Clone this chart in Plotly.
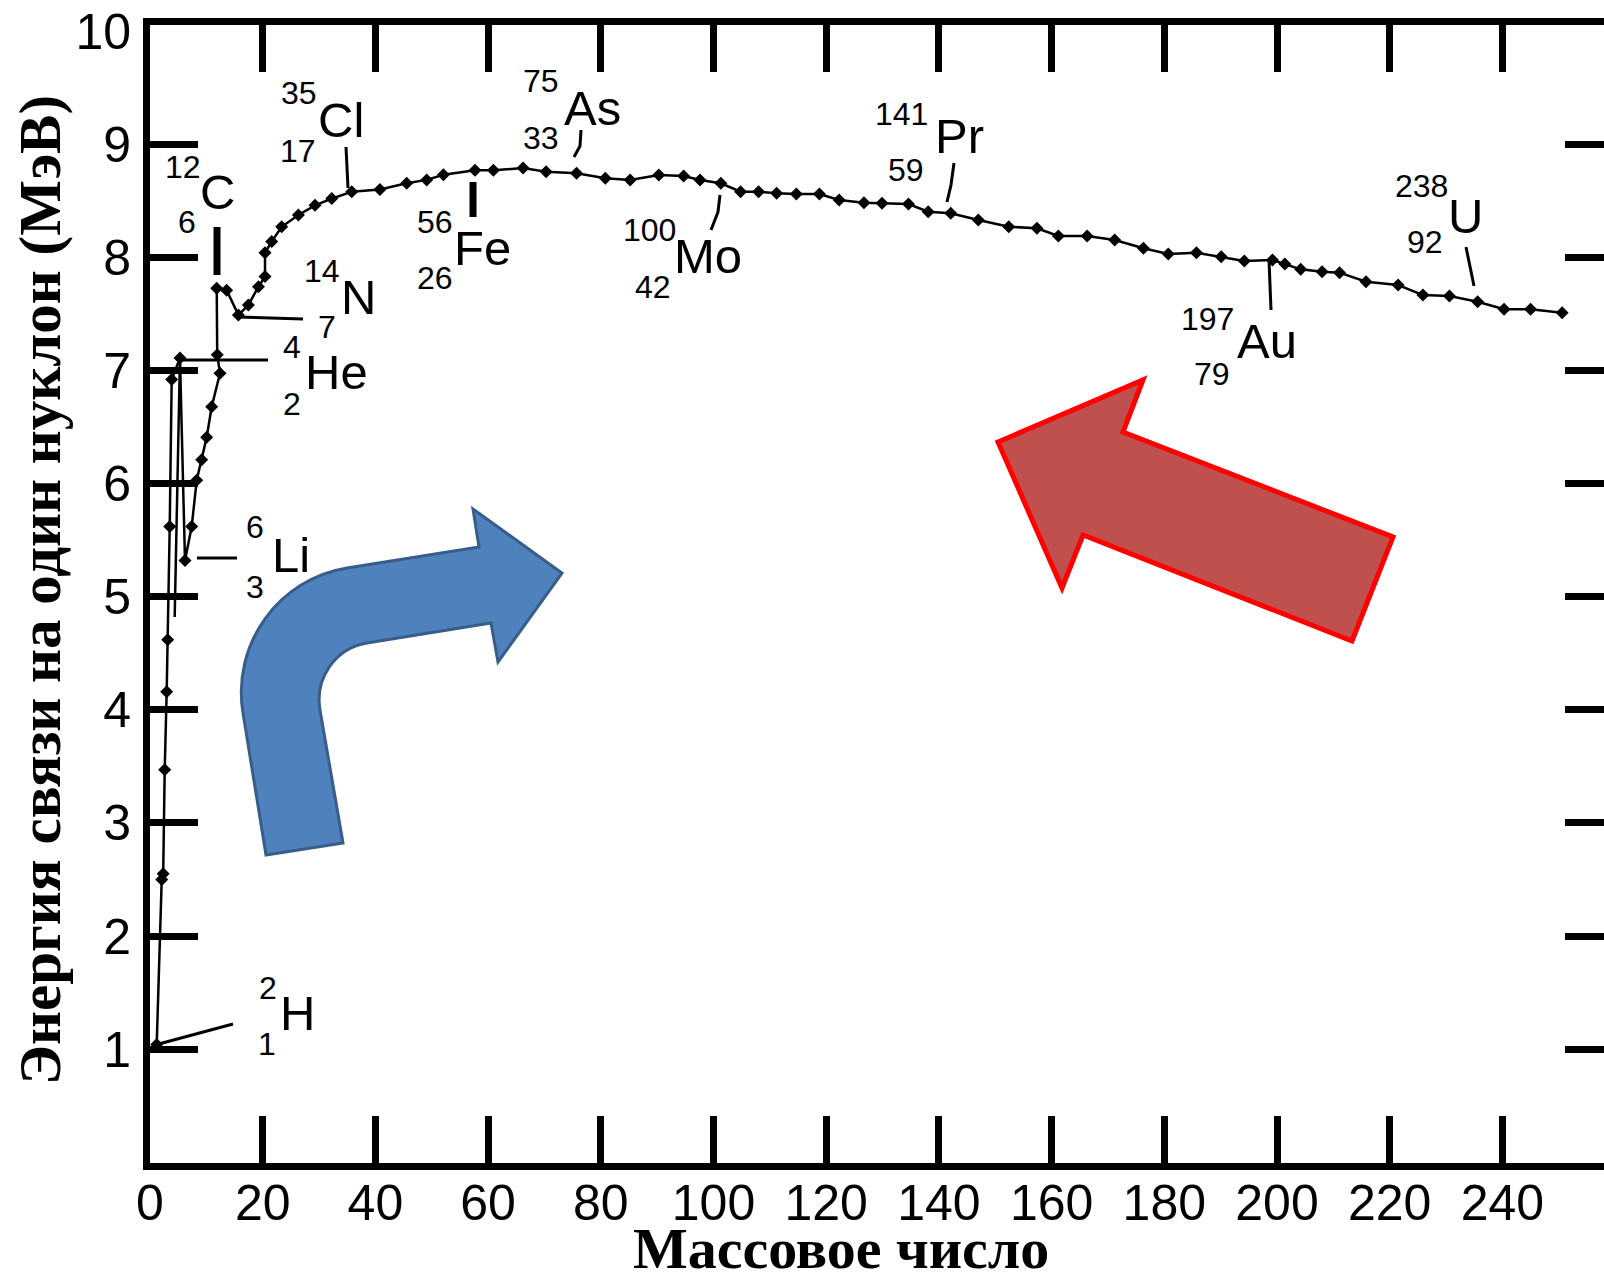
import plotly.graph_objects as go

# ---------------- data ----------------
mass_number = [1.19, 2.08, 2.34, 2.61, 2.96, 3.14, 3.5, 3.85, 5.32, 6.21,
               7.4, 8.29, 9.17, 10.06, 10.95, 12.42, 11.93, 11.84, 13.6, 15.69,
               17.46, 19.24, 20.41, 20.41, 21.6, 23.37, 26.34, 29.28, 32.25, 35.8,
               40.8, 45.55, 49.1, 52.07, 57.68, 60.94, 66.2, 70.3, 75.7, 80.8,
               85.2, 90.3, 94.7, 97.6, 101.3, 104.8, 108.0, 111.2, 114.7, 118.8,
               122.3, 126.7, 129.9, 134.6, 138.1, 142.1, 147.0, 152.4, 157.4, 161.2,
               166.3, 171.2, 176.3, 180.7, 185.7, 190.1, 194.2, 199.2, 201.4, 204.2,
               208.0, 211.1, 215.8, 221.5, 225.9, 230.6, 235.6, 240.3, 245.0, 250.6]
binding_energy = [1.04, 2.50, 2.55, 3.47, 4.16, 4.62, 5.62, 6.92, 7.11, 5.32,
                  5.62, 6.03, 6.21, 6.41, 6.68, 6.975, 7.14, 7.727, 7.71, 7.49,
                  7.58, 7.74, 7.83, 8.04, 8.14, 8.27, 8.375, 8.46, 8.52, 8.58,
                  8.6, 8.655, 8.685, 8.73, 8.77, 8.77, 8.79, 8.757, 8.743, 8.699,
                  8.684, 8.728, 8.719, 8.684, 8.655, 8.581, 8.581, 8.566, 8.560, 8.560,
                  8.507, 8.483, 8.478, 8.472, 8.404, 8.390, 8.330, 8.271, 8.257, 8.19,
                  8.189, 8.153, 8.08, 8.03, 8.04, 8.006, 7.968, 7.977, 7.941, 7.894,
                  7.873, 7.865, 7.785, 7.756, 7.667, 7.658, 7.608, 7.541, 7.541, 7.511]
# short extra line segment below the He-4 point
extra_mass_number = [5.32, 4.38]
extra_binding_energy = [7.11, 4.82]

x_tick_values = [0, 20, 40, 60, 80, 100, 120, 140, 160, 180, 200, 220, 240]
y_tick_values = [1, 2, 3, 4, 5, 6, 7, 8, 9, 10]
y_tick_marks = [1, 2, 3, 4, 5, 6, 7, 8, 9]

label_symbol = ["H", "Li", "He", "N", "C", "Cl", "Fe", "As", "Mo", "Pr", "Au", "U"]
label_mass = ["2", "6", "4", "14", "12", "35", "56", "75", "100", "141", "197", "238"]
label_z = ["1", "3", "2", "7", "6", "17", "26", "33", "42", "59", "79", "92"]

x_title = "Массовое число"
y_title = "Энергия связи на один нуклон (МэВ)"

# ---------------- layout geometry (pixels) ----------------
W_FIG, H_FIG = 1604, 1272
L, R, T, B = 150, 1604, 25, 1163
X_RANGE = [0, (R - L) / 5.635]
Y_RANGE = [(1162.25 - B) / 113.11, (1162.25 - T) / 113.11]


def px(xp):
    return (xp - L) / (R - L)


def py(yp):
    return (B - yp) / (B - T)


# label placement: (sup right edge x, sup y, symbol centre x, symbol y, sub right edge x, sub y)
label_pos = [
    (279, 988, 297, 1013, 278, 1044),
    (266, 527, 291, 555, 266, 587),
    (303, 347, 336, 372, 303, 404),
    (342, 271, 358, 297, 338, 327),
    (203, 167, 217, 192, 198, 222),
    (319, 93, 341, 120, 318, 151),
    (455, 222, 482, 248, 455, 278),
    (561, 81, 592, 108, 561, 138),
    (678, 230, 708, 256, 673, 287),
    (930, 114, 959, 136, 926, 170),
    (1236, 319, 1267, 341, 1232, 374),
    (1450, 186, 1465, 216, 1445, 242),
]
# pointer lines (pixel polylines) and widths
pointers = [
    ([(155, 1045), (233, 1024)], 3),
    ([(197, 558), (237, 558)], 3),
    ([(183, 360), (268, 360)], 3),
    ([(237, 317), (303, 319)], 3),
    ([(217, 227), (217, 275)], 7),
    ([(346, 147), (348, 188)], 3),
    ([(473, 182), (473, 217)], 7),
    ([(581, 130), (580, 146), (574, 157)], 3),
    ([(720, 195), (718, 212), (711, 230)], 3),
    ([(954, 163), (951, 185), (947, 202)], 3),
    ([(1269, 260), (1271, 310)], 3),
    ([(1466, 247), (1474, 286)], 3),
]

fig = go.Figure()
fig.add_trace(go.Scatter(
    x=mass_number, y=binding_energy, mode="lines+markers",
    line=dict(color="black", width=2.5),
    marker=dict(color="black", size=10, symbol="diamond"),
    hoverinfo="skip", showlegend=False))
fig.add_trace(go.Scatter(
    x=extra_mass_number, y=extra_binding_energy, mode="lines",
    line=dict(color="black", width=2.5), hoverinfo="skip", showlegend=False))
fig.add_trace(go.Scatter(x=[], y=[], yaxis="y2", showlegend=False))
fig.add_trace(go.Scatter(x=[], y=[], yaxis="y3", showlegend=False))

tick_font = dict(family="Liberation Sans", size=50, color="black")

fig.update_layout(
    width=W_FIG, height=H_FIG,
    margin=dict(l=L, r=W_FIG - R, t=T, b=H_FIG - B, pad=0),
    paper_bgcolor="white", plot_bgcolor="white",
    showlegend=False,
    xaxis=dict(range=X_RANGE, tickmode="array", tickvals=x_tick_values,
               ticktext=[str(v) for v in x_tick_values],
               ticks="inside", ticklen=47, tickwidth=7, tickcolor="black",
               showline=True, linewidth=7, linecolor="black", mirror="ticks",
               showgrid=False, zeroline=False, tickfont=tick_font,
               ticklabelstandoff=-10),
    yaxis=dict(range=Y_RANGE, tickmode="array", tickvals=y_tick_values,
               ticktext=[str(v) for v in y_tick_values],
               ticks="", showline=True, linewidth=7, linecolor="black",
               showgrid=False, zeroline=False, tickfont=tick_font,
               ticklabelstandoff=2),
    yaxis2=dict(range=Y_RANGE, overlaying="y", side="left", anchor="x",
                tickmode="array", tickvals=y_tick_marks, ticks="inside",
                ticklen=48, tickwidth=7, tickcolor="black",
                showticklabels=False, showline=False, showgrid=False, zeroline=False),
    yaxis3=dict(range=Y_RANGE, overlaying="y", side="right", anchor="x",
                tickmode="array", tickvals=y_tick_marks, ticks="inside",
                ticklen=39, tickwidth=7, tickcolor="black",
                showticklabels=False, showline=False, showgrid=False, zeroline=False),
)

annotations = []
sup_font = dict(family="Liberation Sans", size=32, color="black")
sym_font = dict(family="Liberation Sans", size=49, color="black")
for sym, a, z, pos in zip(label_symbol, label_mass, label_z, label_pos):
    sx, sy, cx, cy, bx, by = pos
    annotations.append(dict(text=a, x=px(sx), y=py(sy), xref="paper", yref="paper",
                            xanchor="right", yanchor="middle", showarrow=False, font=sup_font))
    annotations.append(dict(text=sym, x=px(cx), y=py(cy), xref="paper", yref="paper",
                            xanchor="center", yanchor="middle", showarrow=False, font=sym_font))
    annotations.append(dict(text=z, x=px(bx), y=py(by), xref="paper", yref="paper",
                            xanchor="right", yanchor="middle", showarrow=False, font=sup_font))

title_font = dict(family="Liberation Serif", size=58, color="black", weight="bold")
y_title_font = dict(family="Liberation Serif", size=59, color="black", weight="bold")
annotations.append(dict(text="<b>%s</b>" % x_title, x=px(841), y=py(1248), xref="paper", yref="paper",
                        xanchor="center", yanchor="middle", showarrow=False, font=title_font))
annotations.append(dict(text="<b>%s</b>" % y_title, x=px(40), y=py(590), xref="paper", yref="paper",
                        xanchor="center", yanchor="middle", textangle=-90, showarrow=False,
                        font=y_title_font))
fig.update_layout(annotations=annotations)

shapes = []
for pts, w in pointers:
    path = "M " + " L ".join("%.5f,%.5f" % (px(a), py(b)) for a, b in pts)
    shapes.append(dict(type="path", path=path, xref="paper", yref="paper",
                       line=dict(color="black", width=w)))


def P(a, b):
    return "%.5f,%.5f" % (px(a), py(b))


blue_path = ("M " + P(266, 855) + " L " + P(243, 713) +
             " C " + P(231.6, 644) + " " + P(278.6, 579) + " " + P(347, 568) +
             " L " + P(479, 547) + " L " + P(473, 509) + " L " + P(562, 573) +
             " L " + P(498, 662) + " L " + P(491, 623) + " L " + P(367, 643) +
             " C " + P(335.6, 648) + " " + P(314.6, 678) + " " + P(320, 710) +
             " L " + P(343, 843) + " Z")
shapes.append(dict(type="path", path=blue_path, xref="paper", yref="paper",
                   fillcolor="#4F81BD", line=dict(color="#385D8A", width=3)))

red_path = ("M " + P(998, 442) + " L " + P(1143, 380) + " L " + P(1123, 432) +
            " L " + P(1393, 537) + " L " + P(1352, 641) + " L " + P(1083, 535) +
            " L " + P(1062, 588) + " Z")
shapes.append(dict(type="path", path=red_path, xref="paper", yref="paper",
                   fillcolor="#C0504D", line=dict(color="#FF0000", width=5)))
fig.update_layout(shapes=shapes)

fig.write_html("out.html", config={"displayModeBar": False},
               post_script="document.body.style.margin='0';document.body.style.overflow='hidden';")
